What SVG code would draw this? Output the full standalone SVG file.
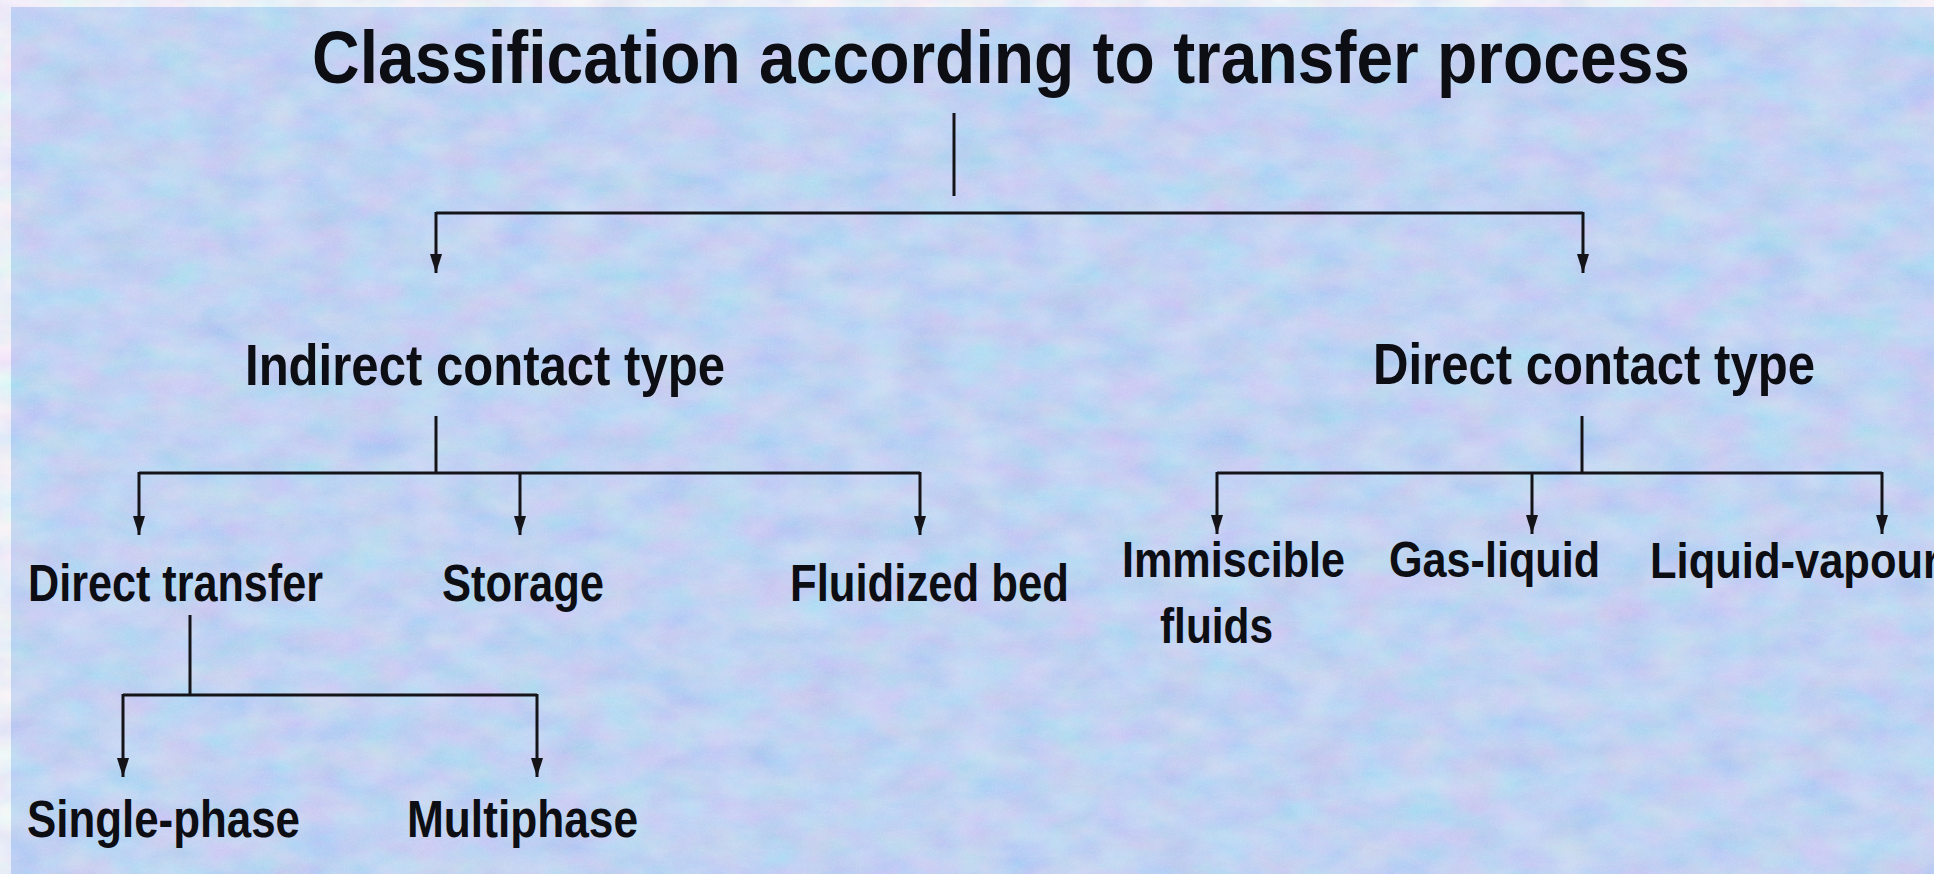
<svg xmlns="http://www.w3.org/2000/svg" width="1934" height="874" viewBox="0 0 1934 874">
<defs>
<style>
.t{font-family:"Liberation Sans",Arial,sans-serif;font-weight:bold;fill:#0d0d14;}
.ln{stroke:#141418;stroke-width:3;fill:none;}
.ar{stroke:#141418;stroke-width:3;fill:none;marker-end:url(#ah);}
</style>
<marker id="ah" viewBox="0 0 19 12" refX="19" refY="6" markerWidth="19" markerHeight="12" markerUnits="userSpaceOnUse" orient="auto">
<path d="M0,0 L19,6 L0,12 Z" fill="#141418"/>
</marker>
<filter id="tex" x="0" y="0" width="100%" height="100%" filterUnits="userSpaceOnUse">
<feTurbulence type="fractalNoise" baseFrequency="0.02 0.035" numOctaves="4" seed="7"/>
<feColorMatrix type="matrix" values="0.9 0 0 0 0.3  0 0.6 0 0 0.5  0 0 0.3 0 0.8  0 0 0 0 0.42"/>
</filter>
<filter id="grain" x="0" y="0" width="100%" height="100%" filterUnits="userSpaceOnUse">
<feTurbulence type="fractalNoise" baseFrequency="0.5" numOctaves="2" seed="2"/>
<feColorMatrix type="matrix" values="0 0 0 0 1  0 0 0 0 1  0 0 0 0 1  0.7 0 0 0 -0.25"/>
</filter>
</defs>
<rect x="0" y="0" width="1934" height="874" fill="#f3f3f5"/>
<rect x="11" y="7" width="1923" height="867" fill="#a6c2ec"/>
<rect x="11" y="7" width="1923" height="867" filter="url(#tex)"/>
<rect x="11" y="7" width="1923" height="867" filter="url(#grain)" opacity="0.3"/>

<g id="connectors">
<line class="ln" x1="954" y1="113" x2="954" y2="196"/>
<line class="ln" x1="436" y1="213" x2="1583" y2="213"/>
<line class="ar" x1="436" y1="212" x2="436" y2="273"/>
<line class="ar" x1="1583" y1="212" x2="1583" y2="273"/>

<line class="ln" x1="436" y1="416" x2="436" y2="473"/>
<line class="ln" x1="139" y1="473" x2="920" y2="473"/>
<line class="ar" x1="139" y1="472" x2="139" y2="535"/>
<line class="ar" x1="520" y1="472" x2="520" y2="535"/>
<line class="ar" x1="920" y1="472" x2="920" y2="535"/>

<line class="ln" x1="1582" y1="416" x2="1582" y2="473"/>
<line class="ln" x1="1217" y1="473" x2="1882" y2="473"/>
<line class="ar" x1="1217" y1="472" x2="1217" y2="534"/>
<line class="ar" x1="1532" y1="472" x2="1532" y2="534"/>
<line class="ar" x1="1882" y1="472" x2="1882" y2="534"/>

<line class="ln" x1="190" y1="615" x2="190" y2="695"/>
<line class="ln" x1="123" y1="695" x2="537" y2="695"/>
<line class="ar" x1="123" y1="694" x2="123" y2="777"/>
<line class="ar" x1="537" y1="694" x2="537" y2="777"/>
</g>

<g id="title"><text class="t" x="312" y="83" font-size="75" textLength="1378" lengthAdjust="spacingAndGlyphs">Classification according to transfer process</text></g>
<g id="indirect"><text class="t" x="245" y="385" font-size="58" textLength="480" lengthAdjust="spacingAndGlyphs">Indirect contact type</text></g>
<g id="direct"><text class="t" x="1373" y="384" font-size="58" textLength="442" lengthAdjust="spacingAndGlyphs">Direct contact type</text></g>
<g id="direct-transfer"><text class="t" x="28" y="601" font-size="51" textLength="295" lengthAdjust="spacingAndGlyphs">Direct transfer</text></g>
<g id="storage"><text class="t" x="442" y="601" font-size="51" textLength="162" lengthAdjust="spacingAndGlyphs">Storage</text></g>
<g id="fluidized-bed"><text class="t" x="790" y="601" font-size="51" textLength="279" lengthAdjust="spacingAndGlyphs">Fluidized bed</text></g>
<g id="immiscible"><text class="t" x="1122" y="577" font-size="50" textLength="223" lengthAdjust="spacingAndGlyphs">Immiscible</text><text class="t" x="1160" y="643" font-size="50" textLength="113" lengthAdjust="spacingAndGlyphs">fluids</text></g>
<g id="gas-liquid"><text class="t" x="1389" y="577" font-size="50" textLength="211" lengthAdjust="spacingAndGlyphs">Gas-liquid</text></g>
<g id="liquid-vapour"><text class="t" x="1650" y="578" font-size="50" textLength="290" lengthAdjust="spacingAndGlyphs">Liquid-vapour</text></g>
<g id="single-phase"><text class="t" x="27" y="837" font-size="51" textLength="273" lengthAdjust="spacingAndGlyphs">Single-phase</text></g>
<g id="multiphase"><text class="t" x="407" y="837" font-size="51" textLength="231" lengthAdjust="spacingAndGlyphs">Multiphase</text></g>
</svg>
